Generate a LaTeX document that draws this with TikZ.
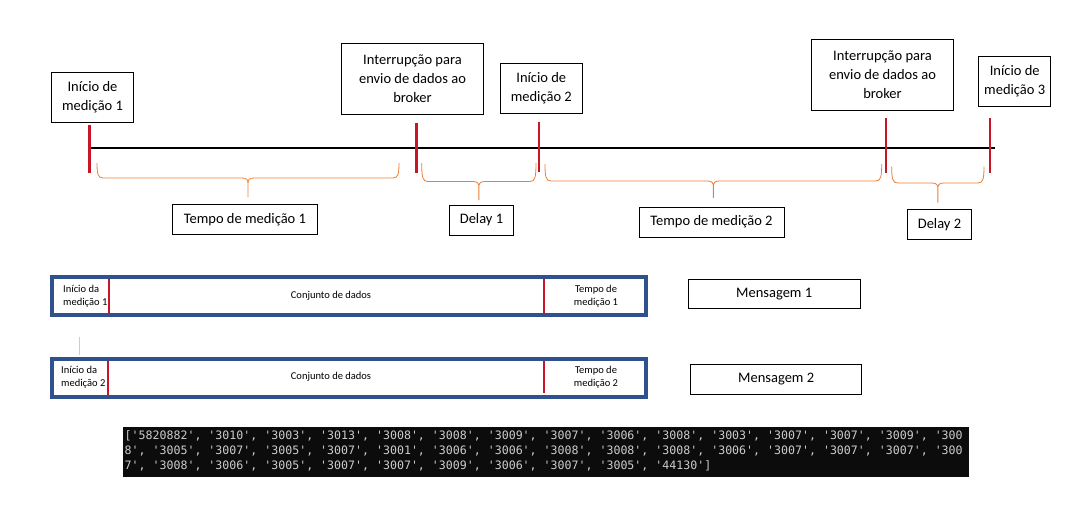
\documentclass[tikz,border=0pt]{standalone}
\usepackage{fontspec}
\setmainfont{Carlito}
\setmonofont{DejaVu Sans Mono}
\usepackage{tikz}
\definecolor{tickred}{RGB}{200,22,38}
\definecolor{braceorange}{RGB}{237,125,49}
\definecolor{frameblue}{RGB}{47,82,143}
\definecolor{termbg}{RGB}{12,12,12}
\definecolor{termfg}{RGB}{204,204,204}
\newcommand{\timebrace}[5]{%
  \draw[bracepath] (#1,#3) .. controls (#1,#4-4) and (#1+1,#4) .. (#1+6,#4)
    -- ({(#1+#2)/2-6},#4) .. controls ({(#1+#2)/2-1},#4) and ({(#1+#2)/2},#4+2) .. ({(#1+#2)/2},#4+6)
    -- ({(#1+#2)/2},#5)
    ({(#1+#2)/2},#4+6) .. controls ({(#1+#2)/2},#4+2) and ({(#1+#2)/2+1},#4) .. ({(#1+#2)/2+6},#4)
    -- (#2-6,#4) .. controls (#2-1,#4) and (#2,#4-4) .. (#2,#3);}
\tikzset{
  labelbox/.style={draw, line width=0.9pt, align=center, inner sep=0pt, font=\fontsize{14.5}{19}\selectfont},
  redtick/.style={draw=tickred, line width=2.5pt},
  bracepath/.style={draw=braceorange, line width=0.8pt},
  msgframe/.style={draw=frameblue, line width=4pt},
  msgtext/.style={inner sep=0pt, font=\fontsize{10.5}{12.5}\selectfont}
}

\begin{document}
\begin{tikzpicture}[x=1pt, y=-1pt]
  \useasboundingbox (0,0) rectangle (1085,515);
  % timeline
  \draw[line width=2.8pt] (89,148) -- (995,148);
  \draw[redtick] (89.3,125) -- (89.3,173);
  \draw[redtick] (416.7,123) -- (416.7,173);
  \draw[redtick] (539,122) -- (539,172);
  \draw[redtick] (886,118) -- (886,173);
  \draw[redtick] (990,118) -- (990,173);
  \node[labelbox, minimum width=81.6, minimum height=49.6] (ini1) at (92.5,97.5) {Início de\\medição 1};
  \node[labelbox, minimum width=141.6, minimum height=70.7] (int1) at (412.5,78.7) {Interrupção para\\envio de dados ao\\broker};
  \node[labelbox, minimum width=82, minimum height=50] (ini2) at (541.3,88.3) {Início de\\medição 2};
  \node[labelbox, minimum width=141.6, minimum height=70.7] (int2) at (882.5,74.7) {Interrupção para\\envio de dados ao\\broker};
  \node[labelbox, minimum width=72, minimum height=50.7] (ini3) at (1014.7,81.4) {Início de\\medição 3};
  % braces
  \timebrace{97}{399}{163}{178}{197}
  \timebrace{421.7}{536}{163}{181.5}{200}
  \timebrace{545}{881.7}{164}{181}{198}
  \timebrace{891.7}{984}{166.5}{183}{202.5}
  \node[labelbox, minimum width=144.3, minimum height=30.3] (tm1) at (244.9,219.2) {Tempo de medição 1};
  \node[labelbox, minimum width=64.4, minimum height=30] (dl1) at (481.5,220) {Delay 1};
  \node[labelbox, minimum width=145, minimum height=30] (tm2) at (711.5,222) {Tempo de medição 2};
  \node[labelbox, minimum width=64.4, minimum height=30] (dl2) at (939.5,224.3) {Delay 2};
  % messages
  \draw[tickred, line width=1.8pt] (109.3,278) -- (109.3,314);
  \draw[tickred, line width=1.8pt] (544,277) -- (544,314);
  \draw[msgframe] (52,277) rectangle (646,315.3);
  \node[msgtext, anchor=west, align=left] (ini1msg) at (63,296) {Início da\\medição 1};
  \node[msgtext] (dados1) at (331,296) {Conjunto de dados};
  \node[msgtext, align=center] (tm1msg) at (596,296) {Tempo de\\medição 1};
  \draw[gray!40, line width=0.8pt] (79.7,337) -- (79.7,355);
  \draw[tickred, line width=1.8pt] (108.3,360) -- (108.3,396);
  \draw[tickred, line width=1.8pt] (544,357) -- (544,393);
  \draw[msgframe] (52,359.3) rectangle (646,397.3);
  \node[msgtext, anchor=west, align=left] (ini2msg) at (61,377) {Início da\\medição 2};
  \node[msgtext] (dados2) at (331,377) {Conjunto de dados};
  \node[msgtext, align=center] (tm2msg) at (596,377) {Tempo de\\medição 2};
  \node[labelbox, minimum width=171.7, minimum height=29.3] (msg1) at (774.2,293.7) {Mensagem 1};
  \node[labelbox, minimum width=171, minimum height=29.7] (msg2) at (776.2,379.2) {Mensagem 2};
  % terminal output
  \draw[fill=termbg, draw=none] (123,427) rectangle (969,477);
  \node[anchor=north west, inner sep=0pt, align=left, text=termfg, font=\ttfamily\fontsize{11.6}{15}\selectfont] (dump) at (124.5,430) {['5820882', '3010', '3003', '3013', '3008', '3008', '3009', '3007', '3006', '3008', '3003', '3007', '3007', '3009', '300\\8', '3005', '3007', '3005', '3007', '3001', '3006', '3006', '3008', '3008', '3008', '3006', '3007', '3007', '3007', '300\\7', '3008', '3006', '3005', '3007', '3007', '3009', '3006', '3007', '3005', '44130']};
\end{tikzpicture}
\end{document}
